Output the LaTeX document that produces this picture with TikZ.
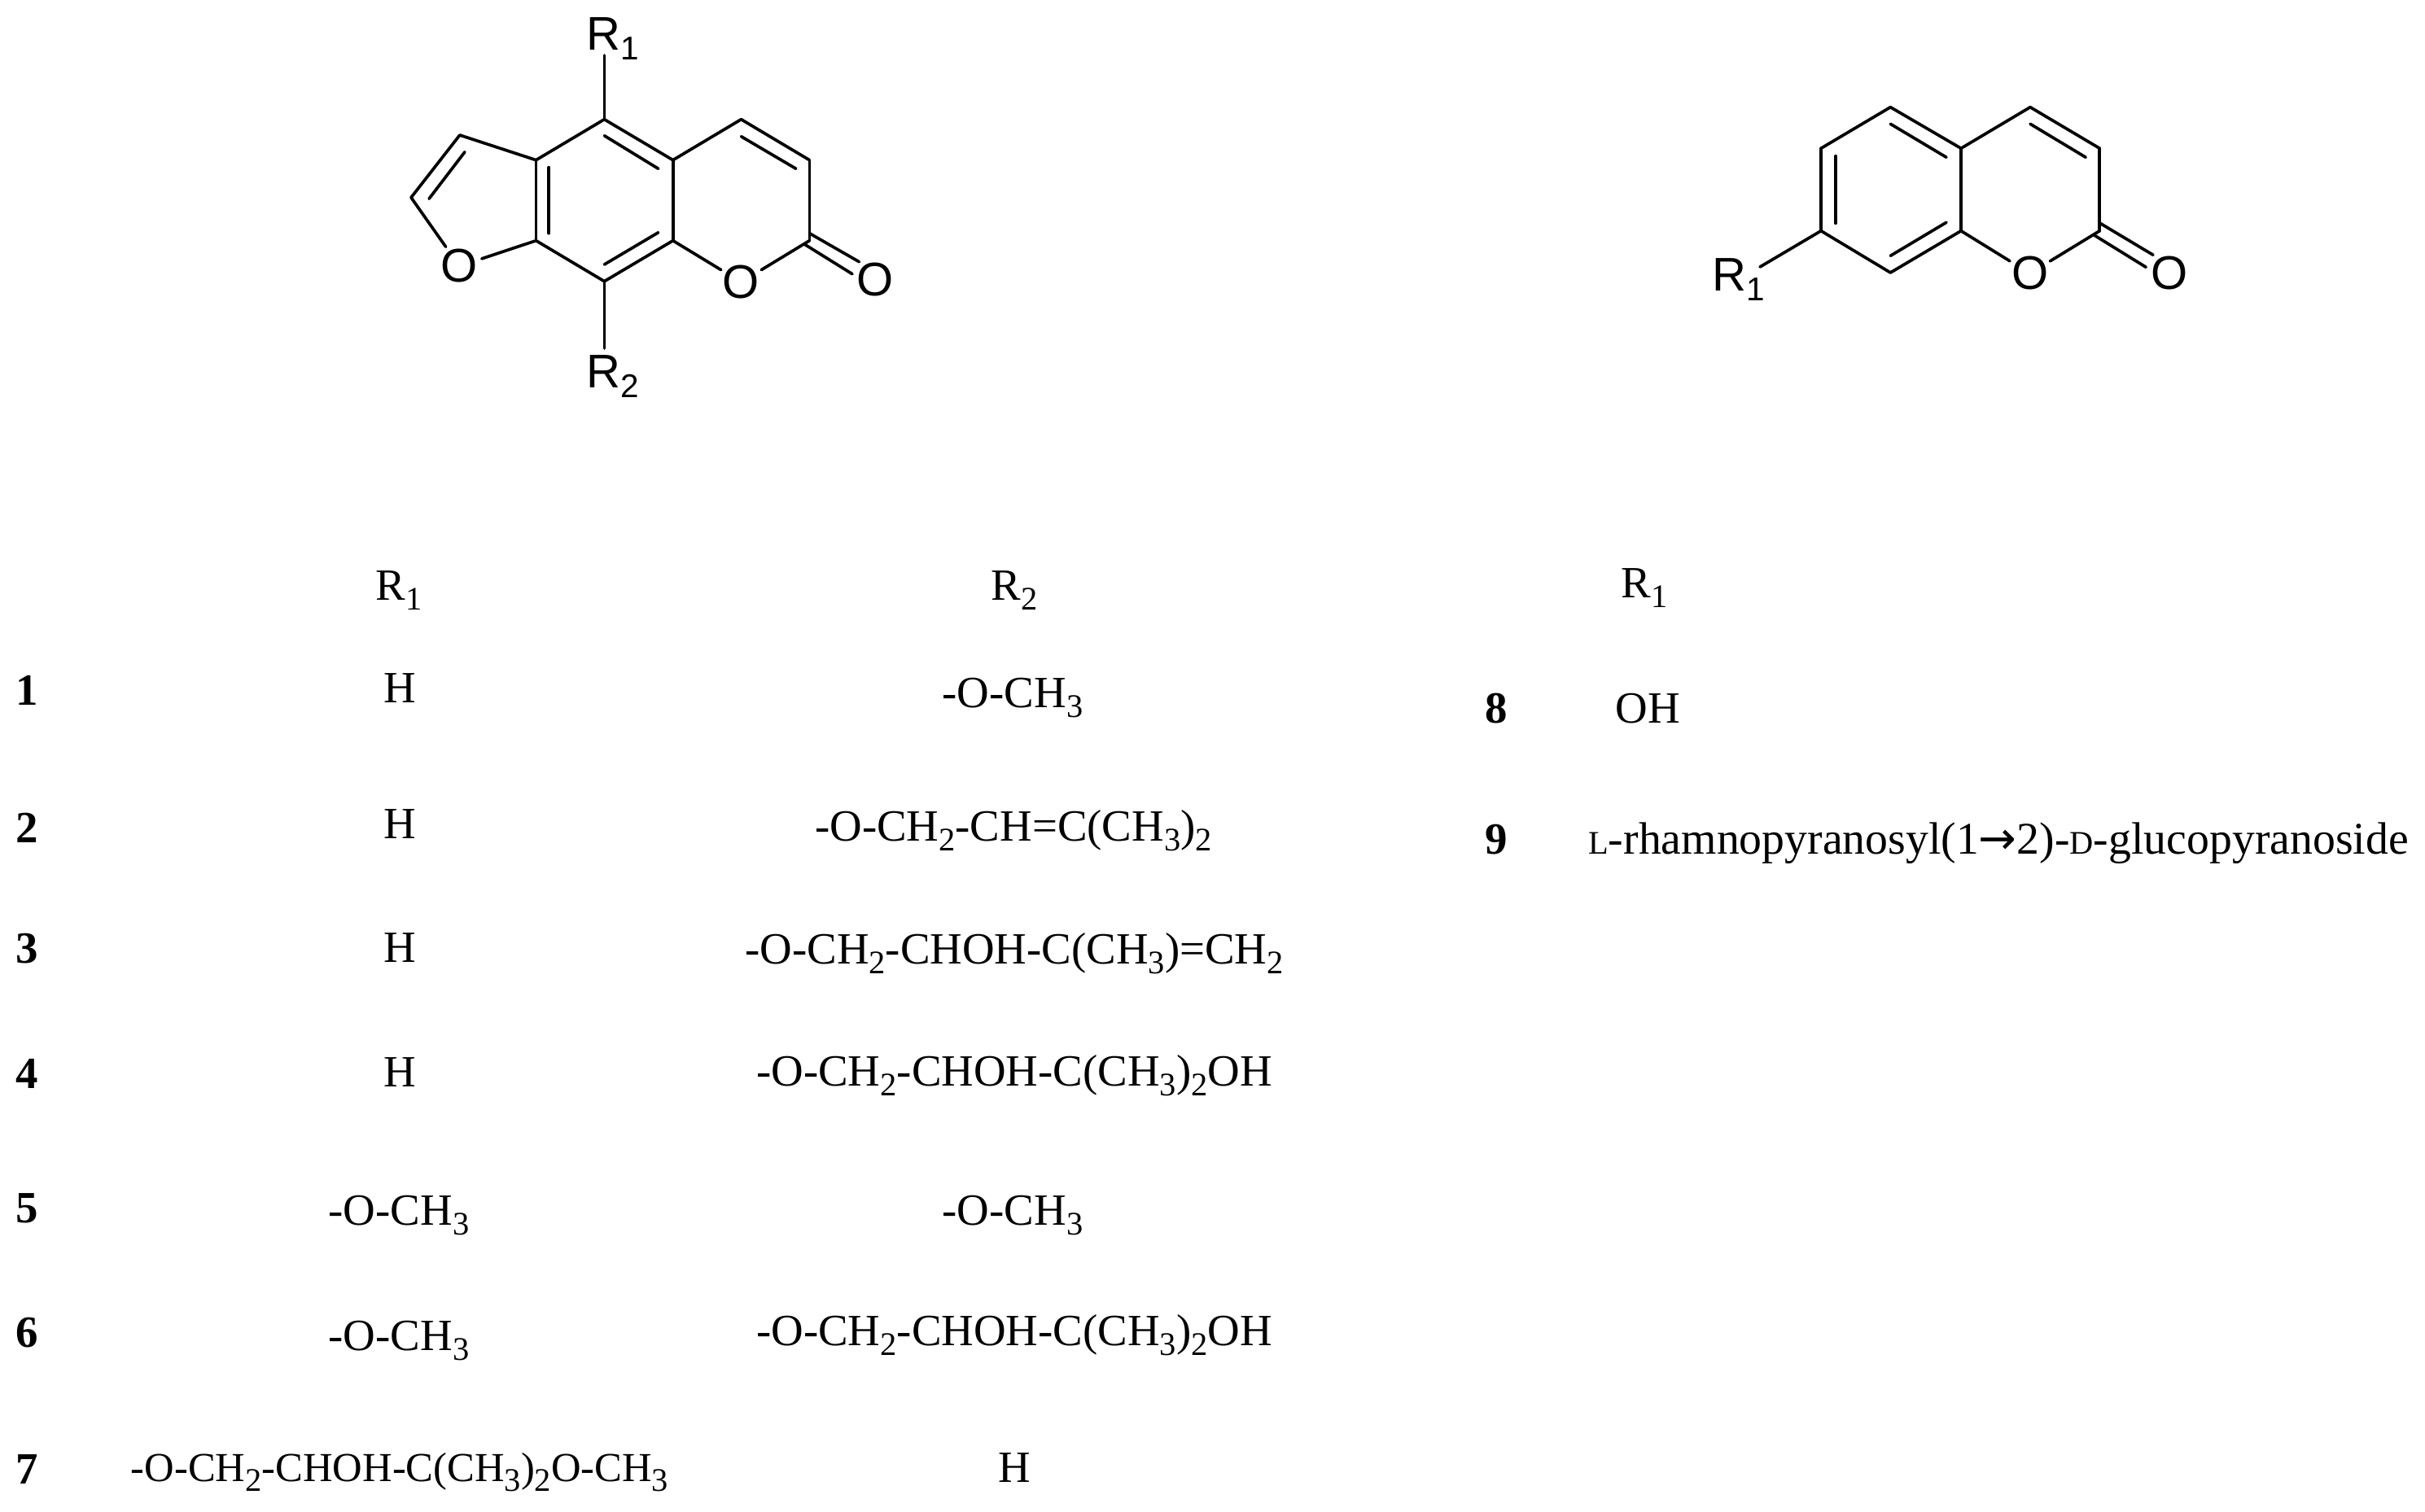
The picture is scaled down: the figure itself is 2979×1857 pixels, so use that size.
\documentclass[tikz,border=0pt]{standalone}
\usepackage{fontspec}
\setmainfont{Liberation Serif}
\setsansfont{Liberation Sans}
\newfontfamily\arrowfont{DejaVu Sans}
\newcommand{\subs}[1]{\raisebox{-3.6pt}{\fontsize{11.5}{12}\selectfont #1}}
\newcommand{\smcap}[1]{{\fontsize{11.5}{12}\selectfont #1}}
\tikzset{
    bond/.style={line width=1.05pt,line cap=round},
    atom/.style={font=\sffamily\fontsize{16.5}{18}\selectfont,inner sep=-0.3pt,outer sep=0pt,circle},
    rgroup/.style={font=\sffamily\fontsize{16.5}{18}\selectfont,inner sep=0pt,anchor=base west},
    cell/.style={font=\fontsize{15.6}{18}\selectfont,inner sep=0pt,anchor=base},
    longcell/.style={font=\fontsize{14.4}{18}\selectfont,inner sep=0pt,anchor=base},
    sugarcell/.style={font=\fontsize{15.85}{18}\selectfont,inner sep=0pt,anchor=base},
    num/.style={font=\bfseries\fontsize{15.6}{18}\selectfont,inner sep=0pt,anchor=base}
}

\begin{document}
\begin{tikzpicture}[x=0.01cm,y=-0.01cm]
    \useasboundingbox (0,0) rectangle (2979,1857);

    \coordinate (a1) at (742.4,146.7);
    \coordinate (a2) at (658.5,196.7);
    \coordinate (a3) at (658.5,295.7);
    \coordinate (a4) at (742.4,345.7);
    \coordinate (a5) at (826.7,295.7);
    \coordinate (a6) at (826.7,196.7);
    \coordinate (a7) at (910.5,146.7);
    \coordinate (a8) at (994.4,196.7);
    \coordinate (a9) at (994.4,295.7);
    \coordinate (a10) at (564.8,166);
    \coordinate (a11) at (505,242.7);
    \coordinate (a1end) at (742.4,68);
    \coordinate (a4end) at (742.4,428);
    \coordinate (d1s) at (742.4,166.7);
    \coordinate (d1e) at (808.7,207.3);
    \coordinate (d2s) at (910.5,167.7);
    \coordinate (d2e) at (977.8,207.3);
    \coordinate (d3s) at (674.2,205.7);
    \coordinate (d3e) at (674.2,286.7);
    \coordinate (d4s) at (808.7,285.7);
    \coordinate (d4e) at (742.4,325);
    \coordinate (d5s) at (571,186.7);
    \coordinate (d5e) at (527,244.3);
    \coordinate (d6s) at (994.4,286.7);
    \coordinate (d6e) at (1055.4,321.7);
    \coordinate (d7s) at (988,300);
    \coordinate (d7e) at (1047,336.7);
    \node[atom] (o1) at (564.3,327) {O};
    \node[atom] (o2) at (910.5,346.7) {O};
    \node[atom] (o3) at (1074.7,344) {O};
    \node[rgroup] (ra) at (720,61) {R\subs{1}};
    \node[rgroup] (rb) at (720,476) {R\subs{2}};

    \path[bond]
    (a1)  edge (a2)
          edge (a6)
          edge (a1end)
    (a2)  edge (a3)
          edge (a10)
    (a3)  edge (a4)
          edge (o1)
    (a4)  edge (a5)
          edge (a4end)
    (a5)  edge (a6)
          edge (o2)
    (a6)  edge (a7)
    (a7)  edge (a8)
    (a8)  edge (a9)
    (a9)  edge (o2)
    (a10) edge (a11)
    (a11) edge (o1)
    (d1s) edge (d1e)
    (d2s) edge (d2e)
    (d3s) edge (d3e)
    (d4s) edge (d4e)
    (d5s) edge (d5e)
    (d6s) edge (d6e)
    (d7s) edge (d7e);

    \coordinate (b1) at (2322.3,131.7);
    \coordinate (b2) at (2237,182.3);
    \coordinate (b3) at (2237,283.7);
    \coordinate (b4) at (2322.3,335);
    \coordinate (b5) at (2409,283.7);
    \coordinate (b6) at (2409,182.3);
    \coordinate (b7) at (2494,131.7);
    \coordinate (b8) at (2579.3,182.3);
    \coordinate (b9) at (2579.3,283.7);
    \coordinate (b3end) at (2162,328);
    \coordinate (e1s) at (2322.3,152.3);
    \coordinate (e1e) at (2391,193.3);
    \coordinate (e2s) at (2494,152.3);
    \coordinate (e2e) at (2562.2,193.3);
    \coordinate (e3s) at (2255,191.7);
    \coordinate (e3e) at (2255,274.3);
    \coordinate (e4s) at (2322.3,314.3);
    \coordinate (e4e) at (2391,273.3);
    \coordinate (e5s) at (2579.3,274);
    \coordinate (e5e) at (2645,313.3);
    \coordinate (e6s) at (2572.6,289);
    \coordinate (e6e) at (2636.2,328.3);
    \node[atom] (o4) at (2493.6,336) {O};
    \node[atom] (o5) at (2665.4,336) {O};
    \node[rgroup] (rc) at (2103,357) {R\subs{1}};

    \path[bond]
    (b1)  edge (b2)
          edge (b6)
    (b2)  edge (b3)
    (b3)  edge (b4)
          edge (b3end)
    (b4)  edge (b5)
    (b5)  edge (b6)
          edge (o4)
    (b6)  edge (b7)
    (b7)  edge (b8)
    (b8)  edge (b9)
    (b9)  edge (o4)
    (e1s) edge (e1e)
    (e2s) edge (e2e)
    (e3s) edge (e3e)
    (e4s) edge (e4e)
    (e5s) edge (e5e)
    (e6s) edge (e6e);

    \node[cell] (h1) at (490,737)  {R\subs{1}};
    \node[cell] (h2) at (1246,737) {R\subs{2}};
    \node[cell] (h3) at (2020,734) {R\subs{1}};

    \node[num]  (n1) at (33,866)   {1};
    \node[cell] (l1) at (491,863)  {H};
    \node[cell] (r1) at (1244,869) {-O-CH\subs{3}};

    \node[num]  (n2) at (33,1035)  {2};
    \node[cell] (l2) at (491,1030) {H};
    \node[cell] (r2) at (1245,1033) {-O-CH\subs{2}-CH=C(CH\subs{3})\subs{2}};

    \node[num]  (n3) at (33,1183)  {3};
    \node[cell] (l3) at (491,1182) {H};
    \node[cell] (r3) at (1246,1184) {-O-CH\subs{2}-CHOH-C(CH\subs{3})=CH\subs{2}};

    \node[num]  (n4) at (33,1337)  {4};
    \node[cell] (l4) at (491,1335) {H};
    \node[cell] (r4) at (1246,1334) {-O-CH\subs{2}-CHOH-C(CH\subs{3})\subs{2}OH};

    \node[num]  (n5) at (33,1502)  {5};
    \node[cell] (l5) at (490,1505) {-O-CH\subs{3}};
    \node[cell] (r5) at (1244,1505) {-O-CH\subs{3}};

    \node[num]  (n6) at (33,1655)  {6};
    \node[cell] (l6) at (490,1659) {-O-CH\subs{3}};
    \node[cell] (r6) at (1246,1653) {-O-CH\subs{2}-CHOH-C(CH\subs{3})\subs{2}OH};

    \node[num]  (n7) at (33,1823)  {7};
    \node[longcell] (l7) at (491,1820) {-O-CH\subs{2}-CHOH-C(CH\subs{3})\subs{2}O-CH\subs{3}};
    \node[cell] (r7) at (1246,1821) {H};

    \node[num]  (n8) at (1838,888) {8};
    \node[cell] (l8) at (2024,888) {OH};

    \node[num]  (n9) at (1838,1049) {9};
    \node[sugarcell] (l9) at (2455,1049) {\smcap{L}-rhamnopyranosyl(1{\arrowfont →}2)-\smcap{D}-glucopyranoside};
\end{tikzpicture}
\end{document}
